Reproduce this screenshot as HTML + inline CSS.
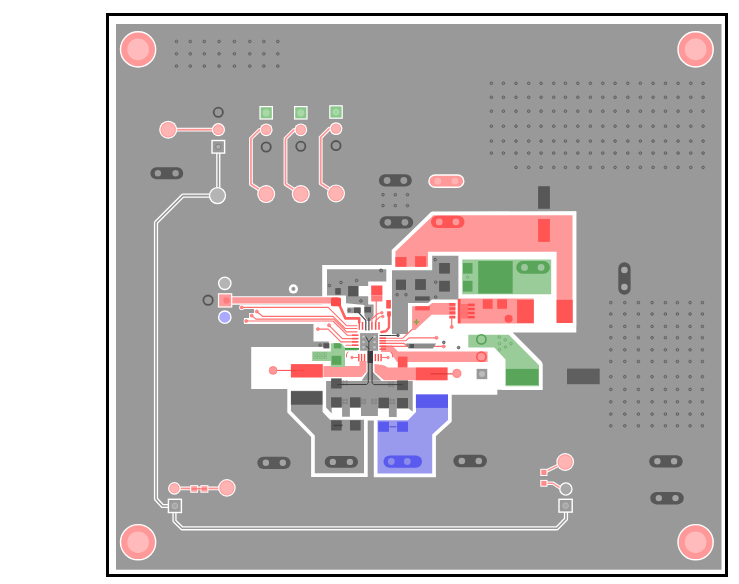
<!DOCTYPE html>
<html><head><meta charset="utf-8"><style>
html,body{margin:0;padding:0;background:#fff;width:739px;height:584px;overflow:hidden}
svg{display:block}
</style></head><body>
<svg width="739" height="584" viewBox="0 0 739 584">
<rect x="107.5" y="14.5" width="619" height="561" fill="none" stroke="#000" stroke-width="3"/>
<rect x="116" y="24" width="605.5" height="545.7" fill="#999999"/>
<circle cx="138.1" cy="49.4" r="17.60" fill="#ff9999" stroke="#fff" stroke-width="1.4"/>
<circle cx="138.1" cy="49.4" r="10.80" fill="#ffbbbb"/>
<circle cx="695.6" cy="49.4" r="17.60" fill="#ff9999" stroke="#fff" stroke-width="1.4"/>
<circle cx="695.6" cy="49.4" r="10.80" fill="#ffbbbb"/>
<circle cx="138.1" cy="542.2" r="17.60" fill="#ff9999" stroke="#fff" stroke-width="1.4"/>
<circle cx="138.1" cy="542.2" r="10.80" fill="#ffbbbb"/>
<circle cx="695.6" cy="542.2" r="17.60" fill="#ff9999" stroke="#fff" stroke-width="1.4"/>
<circle cx="695.6" cy="542.2" r="10.80" fill="#ffbbbb"/>
<circle cx="176.5" cy="41.5" r="1.30" fill="#8c8c8c" stroke="#5c5c5c" stroke-width="0.95"/>
<circle cx="176.5" cy="53.8" r="1.30" fill="#8c8c8c" stroke="#5c5c5c" stroke-width="0.95"/>
<circle cx="176.5" cy="66.1" r="1.30" fill="#8c8c8c" stroke="#5c5c5c" stroke-width="0.95"/>
<circle cx="190.3" cy="41.5" r="1.30" fill="#8c8c8c" stroke="#5c5c5c" stroke-width="0.95"/>
<circle cx="190.3" cy="53.8" r="1.30" fill="#8c8c8c" stroke="#5c5c5c" stroke-width="0.95"/>
<circle cx="190.3" cy="66.1" r="1.30" fill="#8c8c8c" stroke="#5c5c5c" stroke-width="0.95"/>
<circle cx="204.3" cy="41.5" r="1.30" fill="#8c8c8c" stroke="#5c5c5c" stroke-width="0.95"/>
<circle cx="204.3" cy="53.8" r="1.30" fill="#8c8c8c" stroke="#5c5c5c" stroke-width="0.95"/>
<circle cx="204.3" cy="66.1" r="1.30" fill="#8c8c8c" stroke="#5c5c5c" stroke-width="0.95"/>
<circle cx="219.1" cy="41.5" r="1.30" fill="#8c8c8c" stroke="#5c5c5c" stroke-width="0.95"/>
<circle cx="219.1" cy="53.8" r="1.30" fill="#8c8c8c" stroke="#5c5c5c" stroke-width="0.95"/>
<circle cx="219.1" cy="66.1" r="1.30" fill="#8c8c8c" stroke="#5c5c5c" stroke-width="0.95"/>
<circle cx="234.4" cy="41.5" r="1.30" fill="#8c8c8c" stroke="#5c5c5c" stroke-width="0.95"/>
<circle cx="234.4" cy="53.8" r="1.30" fill="#8c8c8c" stroke="#5c5c5c" stroke-width="0.95"/>
<circle cx="234.4" cy="66.1" r="1.30" fill="#8c8c8c" stroke="#5c5c5c" stroke-width="0.95"/>
<circle cx="249.8" cy="41.5" r="1.30" fill="#8c8c8c" stroke="#5c5c5c" stroke-width="0.95"/>
<circle cx="249.8" cy="53.8" r="1.30" fill="#8c8c8c" stroke="#5c5c5c" stroke-width="0.95"/>
<circle cx="249.8" cy="66.1" r="1.30" fill="#8c8c8c" stroke="#5c5c5c" stroke-width="0.95"/>
<circle cx="263.8" cy="41.5" r="1.30" fill="#8c8c8c" stroke="#5c5c5c" stroke-width="0.95"/>
<circle cx="263.8" cy="53.8" r="1.30" fill="#8c8c8c" stroke="#5c5c5c" stroke-width="0.95"/>
<circle cx="263.8" cy="66.1" r="1.30" fill="#8c8c8c" stroke="#5c5c5c" stroke-width="0.95"/>
<circle cx="277.8" cy="41.5" r="1.30" fill="#8c8c8c" stroke="#5c5c5c" stroke-width="0.95"/>
<circle cx="277.8" cy="53.8" r="1.30" fill="#8c8c8c" stroke="#5c5c5c" stroke-width="0.95"/>
<circle cx="277.8" cy="66.1" r="1.30" fill="#8c8c8c" stroke="#5c5c5c" stroke-width="0.95"/>
<circle cx="491.4" cy="83.3" r="1.30" fill="#8c8c8c" stroke="#5c5c5c" stroke-width="0.95"/>
<circle cx="503.4" cy="83.3" r="1.30" fill="#8c8c8c" stroke="#5c5c5c" stroke-width="0.95"/>
<circle cx="516.0" cy="83.3" r="1.30" fill="#8c8c8c" stroke="#5c5c5c" stroke-width="0.95"/>
<circle cx="528.7" cy="83.3" r="1.30" fill="#8c8c8c" stroke="#5c5c5c" stroke-width="0.95"/>
<circle cx="541.1" cy="83.3" r="1.30" fill="#8c8c8c" stroke="#5c5c5c" stroke-width="0.95"/>
<circle cx="553.7" cy="83.3" r="1.30" fill="#8c8c8c" stroke="#5c5c5c" stroke-width="0.95"/>
<circle cx="565.4" cy="83.3" r="1.30" fill="#8c8c8c" stroke="#5c5c5c" stroke-width="0.95"/>
<circle cx="577.8" cy="83.3" r="1.30" fill="#8c8c8c" stroke="#5c5c5c" stroke-width="0.95"/>
<circle cx="590.4" cy="83.3" r="1.30" fill="#8c8c8c" stroke="#5c5c5c" stroke-width="0.95"/>
<circle cx="602.8" cy="83.3" r="1.30" fill="#8c8c8c" stroke="#5c5c5c" stroke-width="0.95"/>
<circle cx="615.1" cy="83.3" r="1.30" fill="#8c8c8c" stroke="#5c5c5c" stroke-width="0.95"/>
<circle cx="627.8" cy="83.3" r="1.30" fill="#8c8c8c" stroke="#5c5c5c" stroke-width="0.95"/>
<circle cx="640.4" cy="83.3" r="1.30" fill="#8c8c8c" stroke="#5c5c5c" stroke-width="0.95"/>
<circle cx="653.1" cy="83.3" r="1.30" fill="#8c8c8c" stroke="#5c5c5c" stroke-width="0.95"/>
<circle cx="665.5" cy="83.3" r="1.30" fill="#8c8c8c" stroke="#5c5c5c" stroke-width="0.95"/>
<circle cx="678.1" cy="83.3" r="1.30" fill="#8c8c8c" stroke="#5c5c5c" stroke-width="0.95"/>
<circle cx="690.8" cy="83.3" r="1.30" fill="#8c8c8c" stroke="#5c5c5c" stroke-width="0.95"/>
<circle cx="703.1" cy="83.3" r="1.30" fill="#8c8c8c" stroke="#5c5c5c" stroke-width="0.95"/>
<circle cx="491.4" cy="97.3" r="1.30" fill="#8c8c8c" stroke="#5c5c5c" stroke-width="0.95"/>
<circle cx="503.4" cy="97.3" r="1.30" fill="#8c8c8c" stroke="#5c5c5c" stroke-width="0.95"/>
<circle cx="516.0" cy="97.3" r="1.30" fill="#8c8c8c" stroke="#5c5c5c" stroke-width="0.95"/>
<circle cx="528.7" cy="97.3" r="1.30" fill="#8c8c8c" stroke="#5c5c5c" stroke-width="0.95"/>
<circle cx="541.1" cy="97.3" r="1.30" fill="#8c8c8c" stroke="#5c5c5c" stroke-width="0.95"/>
<circle cx="553.7" cy="97.3" r="1.30" fill="#8c8c8c" stroke="#5c5c5c" stroke-width="0.95"/>
<circle cx="565.4" cy="97.3" r="1.30" fill="#8c8c8c" stroke="#5c5c5c" stroke-width="0.95"/>
<circle cx="577.8" cy="97.3" r="1.30" fill="#8c8c8c" stroke="#5c5c5c" stroke-width="0.95"/>
<circle cx="590.4" cy="97.3" r="1.30" fill="#8c8c8c" stroke="#5c5c5c" stroke-width="0.95"/>
<circle cx="602.8" cy="97.3" r="1.30" fill="#8c8c8c" stroke="#5c5c5c" stroke-width="0.95"/>
<circle cx="615.1" cy="97.3" r="1.30" fill="#8c8c8c" stroke="#5c5c5c" stroke-width="0.95"/>
<circle cx="627.8" cy="97.3" r="1.30" fill="#8c8c8c" stroke="#5c5c5c" stroke-width="0.95"/>
<circle cx="640.4" cy="97.3" r="1.30" fill="#8c8c8c" stroke="#5c5c5c" stroke-width="0.95"/>
<circle cx="653.1" cy="97.3" r="1.30" fill="#8c8c8c" stroke="#5c5c5c" stroke-width="0.95"/>
<circle cx="665.5" cy="97.3" r="1.30" fill="#8c8c8c" stroke="#5c5c5c" stroke-width="0.95"/>
<circle cx="678.1" cy="97.3" r="1.30" fill="#8c8c8c" stroke="#5c5c5c" stroke-width="0.95"/>
<circle cx="690.8" cy="97.3" r="1.30" fill="#8c8c8c" stroke="#5c5c5c" stroke-width="0.95"/>
<circle cx="703.1" cy="97.3" r="1.30" fill="#8c8c8c" stroke="#5c5c5c" stroke-width="0.95"/>
<circle cx="491.4" cy="111.2" r="1.30" fill="#8c8c8c" stroke="#5c5c5c" stroke-width="0.95"/>
<circle cx="503.4" cy="111.2" r="1.30" fill="#8c8c8c" stroke="#5c5c5c" stroke-width="0.95"/>
<circle cx="516.0" cy="111.2" r="1.30" fill="#8c8c8c" stroke="#5c5c5c" stroke-width="0.95"/>
<circle cx="528.7" cy="111.2" r="1.30" fill="#8c8c8c" stroke="#5c5c5c" stroke-width="0.95"/>
<circle cx="541.1" cy="111.2" r="1.30" fill="#8c8c8c" stroke="#5c5c5c" stroke-width="0.95"/>
<circle cx="553.7" cy="111.2" r="1.30" fill="#8c8c8c" stroke="#5c5c5c" stroke-width="0.95"/>
<circle cx="565.4" cy="111.2" r="1.30" fill="#8c8c8c" stroke="#5c5c5c" stroke-width="0.95"/>
<circle cx="577.8" cy="111.2" r="1.30" fill="#8c8c8c" stroke="#5c5c5c" stroke-width="0.95"/>
<circle cx="590.4" cy="111.2" r="1.30" fill="#8c8c8c" stroke="#5c5c5c" stroke-width="0.95"/>
<circle cx="602.8" cy="111.2" r="1.30" fill="#8c8c8c" stroke="#5c5c5c" stroke-width="0.95"/>
<circle cx="615.1" cy="111.2" r="1.30" fill="#8c8c8c" stroke="#5c5c5c" stroke-width="0.95"/>
<circle cx="627.8" cy="111.2" r="1.30" fill="#8c8c8c" stroke="#5c5c5c" stroke-width="0.95"/>
<circle cx="640.4" cy="111.2" r="1.30" fill="#8c8c8c" stroke="#5c5c5c" stroke-width="0.95"/>
<circle cx="653.1" cy="111.2" r="1.30" fill="#8c8c8c" stroke="#5c5c5c" stroke-width="0.95"/>
<circle cx="665.5" cy="111.2" r="1.30" fill="#8c8c8c" stroke="#5c5c5c" stroke-width="0.95"/>
<circle cx="678.1" cy="111.2" r="1.30" fill="#8c8c8c" stroke="#5c5c5c" stroke-width="0.95"/>
<circle cx="690.8" cy="111.2" r="1.30" fill="#8c8c8c" stroke="#5c5c5c" stroke-width="0.95"/>
<circle cx="703.1" cy="111.2" r="1.30" fill="#8c8c8c" stroke="#5c5c5c" stroke-width="0.95"/>
<circle cx="491.4" cy="126.2" r="1.30" fill="#8c8c8c" stroke="#5c5c5c" stroke-width="0.95"/>
<circle cx="503.4" cy="126.2" r="1.30" fill="#8c8c8c" stroke="#5c5c5c" stroke-width="0.95"/>
<circle cx="516.0" cy="126.2" r="1.30" fill="#8c8c8c" stroke="#5c5c5c" stroke-width="0.95"/>
<circle cx="528.7" cy="126.2" r="1.30" fill="#8c8c8c" stroke="#5c5c5c" stroke-width="0.95"/>
<circle cx="541.1" cy="126.2" r="1.30" fill="#8c8c8c" stroke="#5c5c5c" stroke-width="0.95"/>
<circle cx="553.7" cy="126.2" r="1.30" fill="#8c8c8c" stroke="#5c5c5c" stroke-width="0.95"/>
<circle cx="565.4" cy="126.2" r="1.30" fill="#8c8c8c" stroke="#5c5c5c" stroke-width="0.95"/>
<circle cx="577.8" cy="126.2" r="1.30" fill="#8c8c8c" stroke="#5c5c5c" stroke-width="0.95"/>
<circle cx="590.4" cy="126.2" r="1.30" fill="#8c8c8c" stroke="#5c5c5c" stroke-width="0.95"/>
<circle cx="602.8" cy="126.2" r="1.30" fill="#8c8c8c" stroke="#5c5c5c" stroke-width="0.95"/>
<circle cx="615.1" cy="126.2" r="1.30" fill="#8c8c8c" stroke="#5c5c5c" stroke-width="0.95"/>
<circle cx="627.8" cy="126.2" r="1.30" fill="#8c8c8c" stroke="#5c5c5c" stroke-width="0.95"/>
<circle cx="640.4" cy="126.2" r="1.30" fill="#8c8c8c" stroke="#5c5c5c" stroke-width="0.95"/>
<circle cx="653.1" cy="126.2" r="1.30" fill="#8c8c8c" stroke="#5c5c5c" stroke-width="0.95"/>
<circle cx="665.5" cy="126.2" r="1.30" fill="#8c8c8c" stroke="#5c5c5c" stroke-width="0.95"/>
<circle cx="678.1" cy="126.2" r="1.30" fill="#8c8c8c" stroke="#5c5c5c" stroke-width="0.95"/>
<circle cx="690.8" cy="126.2" r="1.30" fill="#8c8c8c" stroke="#5c5c5c" stroke-width="0.95"/>
<circle cx="703.1" cy="126.2" r="1.30" fill="#8c8c8c" stroke="#5c5c5c" stroke-width="0.95"/>
<circle cx="491.4" cy="141.1" r="1.30" fill="#8c8c8c" stroke="#5c5c5c" stroke-width="0.95"/>
<circle cx="503.4" cy="141.1" r="1.30" fill="#8c8c8c" stroke="#5c5c5c" stroke-width="0.95"/>
<circle cx="516.0" cy="141.1" r="1.30" fill="#8c8c8c" stroke="#5c5c5c" stroke-width="0.95"/>
<circle cx="528.7" cy="141.1" r="1.30" fill="#8c8c8c" stroke="#5c5c5c" stroke-width="0.95"/>
<circle cx="541.1" cy="141.1" r="1.30" fill="#8c8c8c" stroke="#5c5c5c" stroke-width="0.95"/>
<circle cx="553.7" cy="141.1" r="1.30" fill="#8c8c8c" stroke="#5c5c5c" stroke-width="0.95"/>
<circle cx="565.4" cy="141.1" r="1.30" fill="#8c8c8c" stroke="#5c5c5c" stroke-width="0.95"/>
<circle cx="577.8" cy="141.1" r="1.30" fill="#8c8c8c" stroke="#5c5c5c" stroke-width="0.95"/>
<circle cx="590.4" cy="141.1" r="1.30" fill="#8c8c8c" stroke="#5c5c5c" stroke-width="0.95"/>
<circle cx="602.8" cy="141.1" r="1.30" fill="#8c8c8c" stroke="#5c5c5c" stroke-width="0.95"/>
<circle cx="615.1" cy="141.1" r="1.30" fill="#8c8c8c" stroke="#5c5c5c" stroke-width="0.95"/>
<circle cx="627.8" cy="141.1" r="1.30" fill="#8c8c8c" stroke="#5c5c5c" stroke-width="0.95"/>
<circle cx="640.4" cy="141.1" r="1.30" fill="#8c8c8c" stroke="#5c5c5c" stroke-width="0.95"/>
<circle cx="653.1" cy="141.1" r="1.30" fill="#8c8c8c" stroke="#5c5c5c" stroke-width="0.95"/>
<circle cx="665.5" cy="141.1" r="1.30" fill="#8c8c8c" stroke="#5c5c5c" stroke-width="0.95"/>
<circle cx="678.1" cy="141.1" r="1.30" fill="#8c8c8c" stroke="#5c5c5c" stroke-width="0.95"/>
<circle cx="690.8" cy="141.1" r="1.30" fill="#8c8c8c" stroke="#5c5c5c" stroke-width="0.95"/>
<circle cx="703.1" cy="141.1" r="1.30" fill="#8c8c8c" stroke="#5c5c5c" stroke-width="0.95"/>
<circle cx="491.4" cy="153.1" r="1.30" fill="#8c8c8c" stroke="#5c5c5c" stroke-width="0.95"/>
<circle cx="503.4" cy="153.1" r="1.30" fill="#8c8c8c" stroke="#5c5c5c" stroke-width="0.95"/>
<circle cx="516.0" cy="153.1" r="1.30" fill="#8c8c8c" stroke="#5c5c5c" stroke-width="0.95"/>
<circle cx="528.7" cy="153.1" r="1.30" fill="#8c8c8c" stroke="#5c5c5c" stroke-width="0.95"/>
<circle cx="541.1" cy="153.1" r="1.30" fill="#8c8c8c" stroke="#5c5c5c" stroke-width="0.95"/>
<circle cx="553.7" cy="153.1" r="1.30" fill="#8c8c8c" stroke="#5c5c5c" stroke-width="0.95"/>
<circle cx="565.4" cy="153.1" r="1.30" fill="#8c8c8c" stroke="#5c5c5c" stroke-width="0.95"/>
<circle cx="577.8" cy="153.1" r="1.30" fill="#8c8c8c" stroke="#5c5c5c" stroke-width="0.95"/>
<circle cx="590.4" cy="153.1" r="1.30" fill="#8c8c8c" stroke="#5c5c5c" stroke-width="0.95"/>
<circle cx="602.8" cy="153.1" r="1.30" fill="#8c8c8c" stroke="#5c5c5c" stroke-width="0.95"/>
<circle cx="615.1" cy="153.1" r="1.30" fill="#8c8c8c" stroke="#5c5c5c" stroke-width="0.95"/>
<circle cx="627.8" cy="153.1" r="1.30" fill="#8c8c8c" stroke="#5c5c5c" stroke-width="0.95"/>
<circle cx="640.4" cy="153.1" r="1.30" fill="#8c8c8c" stroke="#5c5c5c" stroke-width="0.95"/>
<circle cx="653.1" cy="153.1" r="1.30" fill="#8c8c8c" stroke="#5c5c5c" stroke-width="0.95"/>
<circle cx="665.5" cy="153.1" r="1.30" fill="#8c8c8c" stroke="#5c5c5c" stroke-width="0.95"/>
<circle cx="678.1" cy="153.1" r="1.30" fill="#8c8c8c" stroke="#5c5c5c" stroke-width="0.95"/>
<circle cx="690.8" cy="153.1" r="1.30" fill="#8c8c8c" stroke="#5c5c5c" stroke-width="0.95"/>
<circle cx="703.1" cy="153.1" r="1.30" fill="#8c8c8c" stroke="#5c5c5c" stroke-width="0.95"/>
<circle cx="516.0" cy="167.4" r="1.30" fill="#8c8c8c" stroke="#5c5c5c" stroke-width="0.95"/>
<circle cx="528.7" cy="167.4" r="1.30" fill="#8c8c8c" stroke="#5c5c5c" stroke-width="0.95"/>
<circle cx="541.1" cy="167.4" r="1.30" fill="#8c8c8c" stroke="#5c5c5c" stroke-width="0.95"/>
<circle cx="553.7" cy="167.4" r="1.30" fill="#8c8c8c" stroke="#5c5c5c" stroke-width="0.95"/>
<circle cx="565.4" cy="167.4" r="1.30" fill="#8c8c8c" stroke="#5c5c5c" stroke-width="0.95"/>
<circle cx="577.8" cy="167.4" r="1.30" fill="#8c8c8c" stroke="#5c5c5c" stroke-width="0.95"/>
<circle cx="590.4" cy="167.4" r="1.30" fill="#8c8c8c" stroke="#5c5c5c" stroke-width="0.95"/>
<circle cx="602.8" cy="167.4" r="1.30" fill="#8c8c8c" stroke="#5c5c5c" stroke-width="0.95"/>
<circle cx="615.1" cy="167.4" r="1.30" fill="#8c8c8c" stroke="#5c5c5c" stroke-width="0.95"/>
<circle cx="627.8" cy="167.4" r="1.30" fill="#8c8c8c" stroke="#5c5c5c" stroke-width="0.95"/>
<circle cx="640.4" cy="167.4" r="1.30" fill="#8c8c8c" stroke="#5c5c5c" stroke-width="0.95"/>
<circle cx="653.1" cy="167.4" r="1.30" fill="#8c8c8c" stroke="#5c5c5c" stroke-width="0.95"/>
<circle cx="665.5" cy="167.4" r="1.30" fill="#8c8c8c" stroke="#5c5c5c" stroke-width="0.95"/>
<circle cx="678.1" cy="167.4" r="1.30" fill="#8c8c8c" stroke="#5c5c5c" stroke-width="0.95"/>
<circle cx="690.8" cy="167.4" r="1.30" fill="#8c8c8c" stroke="#5c5c5c" stroke-width="0.95"/>
<circle cx="703.1" cy="167.4" r="1.30" fill="#8c8c8c" stroke="#5c5c5c" stroke-width="0.95"/>
<circle cx="610.8" cy="302.6" r="1.30" fill="#8c8c8c" stroke="#5c5c5c" stroke-width="0.95"/>
<circle cx="624.8" cy="302.6" r="1.30" fill="#8c8c8c" stroke="#5c5c5c" stroke-width="0.95"/>
<circle cx="638.4" cy="302.6" r="1.30" fill="#8c8c8c" stroke="#5c5c5c" stroke-width="0.95"/>
<circle cx="652.1" cy="302.6" r="1.30" fill="#8c8c8c" stroke="#5c5c5c" stroke-width="0.95"/>
<circle cx="665.4" cy="302.6" r="1.30" fill="#8c8c8c" stroke="#5c5c5c" stroke-width="0.95"/>
<circle cx="677.4" cy="302.6" r="1.30" fill="#8c8c8c" stroke="#5c5c5c" stroke-width="0.95"/>
<circle cx="690.1" cy="302.6" r="1.30" fill="#8c8c8c" stroke="#5c5c5c" stroke-width="0.95"/>
<circle cx="702.4" cy="302.6" r="1.30" fill="#8c8c8c" stroke="#5c5c5c" stroke-width="0.95"/>
<circle cx="610.8" cy="314.0" r="1.30" fill="#8c8c8c" stroke="#5c5c5c" stroke-width="0.95"/>
<circle cx="624.8" cy="314.0" r="1.30" fill="#8c8c8c" stroke="#5c5c5c" stroke-width="0.95"/>
<circle cx="638.4" cy="314.0" r="1.30" fill="#8c8c8c" stroke="#5c5c5c" stroke-width="0.95"/>
<circle cx="652.1" cy="314.0" r="1.30" fill="#8c8c8c" stroke="#5c5c5c" stroke-width="0.95"/>
<circle cx="665.4" cy="314.0" r="1.30" fill="#8c8c8c" stroke="#5c5c5c" stroke-width="0.95"/>
<circle cx="677.4" cy="314.0" r="1.30" fill="#8c8c8c" stroke="#5c5c5c" stroke-width="0.95"/>
<circle cx="690.1" cy="314.0" r="1.30" fill="#8c8c8c" stroke="#5c5c5c" stroke-width="0.95"/>
<circle cx="702.4" cy="314.0" r="1.30" fill="#8c8c8c" stroke="#5c5c5c" stroke-width="0.95"/>
<circle cx="610.8" cy="326.4" r="1.30" fill="#8c8c8c" stroke="#5c5c5c" stroke-width="0.95"/>
<circle cx="624.8" cy="326.4" r="1.30" fill="#8c8c8c" stroke="#5c5c5c" stroke-width="0.95"/>
<circle cx="638.4" cy="326.4" r="1.30" fill="#8c8c8c" stroke="#5c5c5c" stroke-width="0.95"/>
<circle cx="652.1" cy="326.4" r="1.30" fill="#8c8c8c" stroke="#5c5c5c" stroke-width="0.95"/>
<circle cx="665.4" cy="326.4" r="1.30" fill="#8c8c8c" stroke="#5c5c5c" stroke-width="0.95"/>
<circle cx="677.4" cy="326.4" r="1.30" fill="#8c8c8c" stroke="#5c5c5c" stroke-width="0.95"/>
<circle cx="690.1" cy="326.4" r="1.30" fill="#8c8c8c" stroke="#5c5c5c" stroke-width="0.95"/>
<circle cx="702.4" cy="326.4" r="1.30" fill="#8c8c8c" stroke="#5c5c5c" stroke-width="0.95"/>
<circle cx="610.8" cy="337.7" r="1.30" fill="#8c8c8c" stroke="#5c5c5c" stroke-width="0.95"/>
<circle cx="624.8" cy="337.7" r="1.30" fill="#8c8c8c" stroke="#5c5c5c" stroke-width="0.95"/>
<circle cx="638.4" cy="337.7" r="1.30" fill="#8c8c8c" stroke="#5c5c5c" stroke-width="0.95"/>
<circle cx="652.1" cy="337.7" r="1.30" fill="#8c8c8c" stroke="#5c5c5c" stroke-width="0.95"/>
<circle cx="665.4" cy="337.7" r="1.30" fill="#8c8c8c" stroke="#5c5c5c" stroke-width="0.95"/>
<circle cx="677.4" cy="337.7" r="1.30" fill="#8c8c8c" stroke="#5c5c5c" stroke-width="0.95"/>
<circle cx="690.1" cy="337.7" r="1.30" fill="#8c8c8c" stroke="#5c5c5c" stroke-width="0.95"/>
<circle cx="702.4" cy="337.7" r="1.30" fill="#8c8c8c" stroke="#5c5c5c" stroke-width="0.95"/>
<circle cx="610.8" cy="349.8" r="1.30" fill="#8c8c8c" stroke="#5c5c5c" stroke-width="0.95"/>
<circle cx="624.8" cy="349.8" r="1.30" fill="#8c8c8c" stroke="#5c5c5c" stroke-width="0.95"/>
<circle cx="638.4" cy="349.8" r="1.30" fill="#8c8c8c" stroke="#5c5c5c" stroke-width="0.95"/>
<circle cx="652.1" cy="349.8" r="1.30" fill="#8c8c8c" stroke="#5c5c5c" stroke-width="0.95"/>
<circle cx="665.4" cy="349.8" r="1.30" fill="#8c8c8c" stroke="#5c5c5c" stroke-width="0.95"/>
<circle cx="677.4" cy="349.8" r="1.30" fill="#8c8c8c" stroke="#5c5c5c" stroke-width="0.95"/>
<circle cx="690.1" cy="349.8" r="1.30" fill="#8c8c8c" stroke="#5c5c5c" stroke-width="0.95"/>
<circle cx="702.4" cy="349.8" r="1.30" fill="#8c8c8c" stroke="#5c5c5c" stroke-width="0.95"/>
<circle cx="610.8" cy="361.5" r="1.30" fill="#8c8c8c" stroke="#5c5c5c" stroke-width="0.95"/>
<circle cx="624.8" cy="361.5" r="1.30" fill="#8c8c8c" stroke="#5c5c5c" stroke-width="0.95"/>
<circle cx="638.4" cy="361.5" r="1.30" fill="#8c8c8c" stroke="#5c5c5c" stroke-width="0.95"/>
<circle cx="652.1" cy="361.5" r="1.30" fill="#8c8c8c" stroke="#5c5c5c" stroke-width="0.95"/>
<circle cx="665.4" cy="361.5" r="1.30" fill="#8c8c8c" stroke="#5c5c5c" stroke-width="0.95"/>
<circle cx="677.4" cy="361.5" r="1.30" fill="#8c8c8c" stroke="#5c5c5c" stroke-width="0.95"/>
<circle cx="690.1" cy="361.5" r="1.30" fill="#8c8c8c" stroke="#5c5c5c" stroke-width="0.95"/>
<circle cx="702.4" cy="361.5" r="1.30" fill="#8c8c8c" stroke="#5c5c5c" stroke-width="0.95"/>
<circle cx="610.8" cy="376.7" r="1.30" fill="#8c8c8c" stroke="#5c5c5c" stroke-width="0.95"/>
<circle cx="624.8" cy="376.7" r="1.30" fill="#8c8c8c" stroke="#5c5c5c" stroke-width="0.95"/>
<circle cx="638.4" cy="376.7" r="1.30" fill="#8c8c8c" stroke="#5c5c5c" stroke-width="0.95"/>
<circle cx="652.1" cy="376.7" r="1.30" fill="#8c8c8c" stroke="#5c5c5c" stroke-width="0.95"/>
<circle cx="665.4" cy="376.7" r="1.30" fill="#8c8c8c" stroke="#5c5c5c" stroke-width="0.95"/>
<circle cx="677.4" cy="376.7" r="1.30" fill="#8c8c8c" stroke="#5c5c5c" stroke-width="0.95"/>
<circle cx="690.1" cy="376.7" r="1.30" fill="#8c8c8c" stroke="#5c5c5c" stroke-width="0.95"/>
<circle cx="702.4" cy="376.7" r="1.30" fill="#8c8c8c" stroke="#5c5c5c" stroke-width="0.95"/>
<circle cx="610.8" cy="389.4" r="1.30" fill="#8c8c8c" stroke="#5c5c5c" stroke-width="0.95"/>
<circle cx="624.8" cy="389.4" r="1.30" fill="#8c8c8c" stroke="#5c5c5c" stroke-width="0.95"/>
<circle cx="638.4" cy="389.4" r="1.30" fill="#8c8c8c" stroke="#5c5c5c" stroke-width="0.95"/>
<circle cx="652.1" cy="389.4" r="1.30" fill="#8c8c8c" stroke="#5c5c5c" stroke-width="0.95"/>
<circle cx="665.4" cy="389.4" r="1.30" fill="#8c8c8c" stroke="#5c5c5c" stroke-width="0.95"/>
<circle cx="677.4" cy="389.4" r="1.30" fill="#8c8c8c" stroke="#5c5c5c" stroke-width="0.95"/>
<circle cx="690.1" cy="389.4" r="1.30" fill="#8c8c8c" stroke="#5c5c5c" stroke-width="0.95"/>
<circle cx="702.4" cy="389.4" r="1.30" fill="#8c8c8c" stroke="#5c5c5c" stroke-width="0.95"/>
<circle cx="610.8" cy="401.8" r="1.30" fill="#8c8c8c" stroke="#5c5c5c" stroke-width="0.95"/>
<circle cx="624.8" cy="401.8" r="1.30" fill="#8c8c8c" stroke="#5c5c5c" stroke-width="0.95"/>
<circle cx="638.4" cy="401.8" r="1.30" fill="#8c8c8c" stroke="#5c5c5c" stroke-width="0.95"/>
<circle cx="652.1" cy="401.8" r="1.30" fill="#8c8c8c" stroke="#5c5c5c" stroke-width="0.95"/>
<circle cx="665.4" cy="401.8" r="1.30" fill="#8c8c8c" stroke="#5c5c5c" stroke-width="0.95"/>
<circle cx="677.4" cy="401.8" r="1.30" fill="#8c8c8c" stroke="#5c5c5c" stroke-width="0.95"/>
<circle cx="690.1" cy="401.8" r="1.30" fill="#8c8c8c" stroke="#5c5c5c" stroke-width="0.95"/>
<circle cx="702.4" cy="401.8" r="1.30" fill="#8c8c8c" stroke="#5c5c5c" stroke-width="0.95"/>
<circle cx="610.8" cy="414.1" r="1.30" fill="#8c8c8c" stroke="#5c5c5c" stroke-width="0.95"/>
<circle cx="624.8" cy="414.1" r="1.30" fill="#8c8c8c" stroke="#5c5c5c" stroke-width="0.95"/>
<circle cx="638.4" cy="414.1" r="1.30" fill="#8c8c8c" stroke="#5c5c5c" stroke-width="0.95"/>
<circle cx="652.1" cy="414.1" r="1.30" fill="#8c8c8c" stroke="#5c5c5c" stroke-width="0.95"/>
<circle cx="665.4" cy="414.1" r="1.30" fill="#8c8c8c" stroke="#5c5c5c" stroke-width="0.95"/>
<circle cx="677.4" cy="414.1" r="1.30" fill="#8c8c8c" stroke="#5c5c5c" stroke-width="0.95"/>
<circle cx="690.1" cy="414.1" r="1.30" fill="#8c8c8c" stroke="#5c5c5c" stroke-width="0.95"/>
<circle cx="702.4" cy="414.1" r="1.30" fill="#8c8c8c" stroke="#5c5c5c" stroke-width="0.95"/>
<circle cx="610.8" cy="425.8" r="1.30" fill="#8c8c8c" stroke="#5c5c5c" stroke-width="0.95"/>
<circle cx="624.8" cy="425.8" r="1.30" fill="#8c8c8c" stroke="#5c5c5c" stroke-width="0.95"/>
<circle cx="638.4" cy="425.8" r="1.30" fill="#8c8c8c" stroke="#5c5c5c" stroke-width="0.95"/>
<circle cx="652.1" cy="425.8" r="1.30" fill="#8c8c8c" stroke="#5c5c5c" stroke-width="0.95"/>
<circle cx="665.4" cy="425.8" r="1.30" fill="#8c8c8c" stroke="#5c5c5c" stroke-width="0.95"/>
<circle cx="677.4" cy="425.8" r="1.30" fill="#8c8c8c" stroke="#5c5c5c" stroke-width="0.95"/>
<circle cx="690.1" cy="425.8" r="1.30" fill="#8c8c8c" stroke="#5c5c5c" stroke-width="0.95"/>
<circle cx="702.4" cy="425.8" r="1.30" fill="#8c8c8c" stroke="#5c5c5c" stroke-width="0.95"/>
<circle cx="383.0" cy="194.7" r="1.30" fill="#8c8c8c" stroke="#5c5c5c" stroke-width="0.95"/>
<circle cx="383.0" cy="205.6" r="1.30" fill="#8c8c8c" stroke="#5c5c5c" stroke-width="0.95"/>
<circle cx="395.3" cy="194.7" r="1.30" fill="#8c8c8c" stroke="#5c5c5c" stroke-width="0.95"/>
<circle cx="395.3" cy="205.6" r="1.30" fill="#8c8c8c" stroke="#5c5c5c" stroke-width="0.95"/>
<circle cx="407.5" cy="194.7" r="1.30" fill="#8c8c8c" stroke="#5c5c5c" stroke-width="0.95"/>
<circle cx="407.5" cy="205.6" r="1.30" fill="#8c8c8c" stroke="#5c5c5c" stroke-width="0.95"/>
<rect x="378.9" y="174.3" width="32.9" height="12.3" rx="6.2" ry="6.2" fill="#575757"/>
<circle cx="387.1" cy="180.5" r="3.40" fill="#9a9a9a"/>
<circle cx="403.8" cy="180.5" r="3.40" fill="#9a9a9a"/>
<rect x="379.6" y="216.2" width="33.6" height="12.3" rx="6.2" ry="6.2" fill="#575757"/>
<circle cx="387.8" cy="222.3" r="3.40" fill="#9a9a9a"/>
<circle cx="404.9" cy="222.3" r="3.40" fill="#9a9a9a"/>
<rect x="428.9" y="175.0" width="34.9" height="12.3" rx="6.2" ry="6.2" fill="#ff9999" stroke="#ffffff" stroke-width="1.4"/>
<circle cx="437.8" cy="181.2" r="3.40" fill="#ffb3b3"/>
<circle cx="454.9" cy="181.2" r="3.40" fill="#ffb3b3"/>
<rect x="150.4" y="167.3" width="32.8" height="12.0" rx="6.0" ry="6.0" fill="#575757"/>
<circle cx="157.9" cy="173.3" r="3.20" fill="#9a9a9a"/>
<circle cx="175.6" cy="173.3" r="3.20" fill="#9a9a9a"/>
<rect x="538.1" y="186.2" width="11.8" height="22.6" fill="#575757"/>
<rect x="257.3" y="456.7" width="33.3" height="12.3" rx="6.2" ry="6.2" fill="#5a5a5a"/>
<circle cx="265.9" cy="462.8" r="3.20" fill="#a4a4a4"/>
<circle cx="282.8" cy="462.8" r="3.20" fill="#a4a4a4"/>
<rect x="453.4" y="454.8" width="33.5" height="12.4" rx="6.2" ry="6.2" fill="#575757"/>
<circle cx="461.8" cy="461.0" r="3.30" fill="#a4a4a4"/>
<circle cx="478.8" cy="461.0" r="3.30" fill="#a4a4a4"/>
<rect x="649.2" y="455.2" width="33.5" height="12.3" rx="6.2" ry="6.2" fill="#575757"/>
<circle cx="657.4" cy="461.3" r="3.20" fill="#a4a4a4"/>
<circle cx="674.1" cy="461.3" r="3.20" fill="#a4a4a4"/>
<rect x="650.3" y="491.9" width="33.4" height="12.5" rx="6.2" ry="6.2" fill="#575757"/>
<circle cx="658.8" cy="498.1" r="3.20" fill="#a4a4a4"/>
<circle cx="675.5" cy="498.1" r="3.20" fill="#a4a4a4"/>
<rect x="618.3" y="262.3" width="12.3" height="32.5" rx="6.1" fill="#575757"/>
<circle cx="624.4" cy="270.0" r="3.30" fill="#a8a8a8"/>
<circle cx="624.4" cy="287.0" r="3.30" fill="#a8a8a8"/>
<rect x="567.0" y="368.6" width="32.7" height="15.6" fill="#5f5f5f"/>
<polygon points="240.0,304.9 322.2,304.9 322.2,265.0 392.0,265.0 392.0,251.0 431.0,212.0 576.3,211.3 576.3,332.5 512.6,332.5 542.0,362.0 542.0,389.8 497.3,389.8 497.3,394.7 412.0,394.7 412.0,389.0 251.2,389.0 251.2,347.0 331.0,347.0 331.0,341.5 313.5,341.5 313.5,324.0 244.0,324.0 244.0,318.0 249.0,318.0 249.0,313.0 254.0,313.0 254.0,309.0 240.0,309.0" fill="#ffffff"/>
<polygon points="322.4,381.0 416.4,381.0 416.4,412.0 410.0,420.4 330.0,420.4 322.4,413.0" fill="#ffffff"/>
<polygon points="433.5,215.3 572.5,215.3 572.5,323.0 556.6,323.0 556.6,251.7 428.0,251.7 428.0,266.8 395.4,266.8 395.4,251.5" fill="#ffffff" stroke="#ffffff" stroke-width="7.4" stroke-linejoin="miter"/>
<polygon points="327.0,269.2 386.3,269.2 386.3,281.6 368.2,281.6 368.2,286.0 358.4,286.0 358.4,296.3 368.2,296.3 368.2,304.5 373.6,304.5 373.6,316.0 370.5,321.0 367.5,321.0 364.4,316.0 364.4,305.0 346.0,303.3 346.0,295.5 327.0,295.5" fill="#ffffff" stroke="#ffffff" stroke-width="7.4" stroke-linejoin="miter"/>
<polygon points="347.3,307.5 360.6,307.5 360.6,313.2 347.3,313.2" fill="#ffffff" stroke="#ffffff" stroke-width="7.4" stroke-linejoin="miter"/>
<polygon points="392.0,270.2 432.2,270.2 432.2,255.7 458.4,255.7 458.4,299.5 432.0,299.5 428.0,303.0 408.0,303.0 408.0,334.0 392.0,334.0" fill="#ffffff" stroke="#ffffff" stroke-width="7.4" stroke-linejoin="miter"/>
<polygon points="326.1,381.1 412.7,381.1 412.7,411.5 408.5,408.6 396.7,408.6 396.7,417.0 388.9,417.0 388.9,408.2 377.9,408.2 377.9,416.0 361.0,416.0 361.0,407.6 349.9,407.6 349.9,416.7 342.1,416.7 342.1,407.6 331.7,407.6 331.7,413.4 326.1,407.6" fill="#ffffff" stroke="#ffffff" stroke-width="7.4" stroke-linejoin="miter"/>
<polygon points="291.0,390.8 322.6,390.8 322.6,412.0 330.0,419.7 364.0,419.7 364.0,473.3 314.8,473.3 314.8,435.5 291.0,411.0" fill="#ffffff" stroke="#ffffff" stroke-width="7.4" stroke-linejoin="miter"/>
<polygon points="377.5,420.3 408.0,420.3 416.0,412.0 416.0,394.5 448.0,394.5 448.0,420.0 432.2,434.5 432.2,473.6 377.5,473.6" fill="#ffffff" stroke="#ffffff" stroke-width="7.4" stroke-linejoin="miter"/>
<polygon points="468.3,334.7 508.8,334.7 539.0,365.2 539.0,386.3 505.5,386.3 505.5,359.5 494.3,347.6 468.3,347.6" fill="#ffffff" stroke="#ffffff" stroke-width="7.4" stroke-linejoin="miter"/>
<polygon points="457.9,298.4 533.8,298.4 533.8,323.5 457.9,323.5" fill="#ffffff" stroke="#ffffff" stroke-width="7.4" stroke-linejoin="miter"/>
<polygon points="462.2,259.4 551.2,259.4 551.2,294.2 462.2,294.2" fill="#ffffff" stroke="#ffffff" stroke-width="7.4" stroke-linejoin="miter"/>
<polygon points="412.1,306.2 428.0,306.2 432.2,303.1 455.4,303.1 455.4,314.7 431.6,314.7 415.2,329.9 412.1,329.9" fill="#ffffff" stroke="#ffffff" stroke-width="7.4" stroke-linejoin="miter"/>
<polygon points="367.7,350.7 372.6,350.7 372.6,371.8 381.5,380.7 361.6,380.7 367.7,371.8" fill="#ffffff" stroke="#ffffff" stroke-width="4.5" stroke-linejoin="miter"/>
<polygon points="381.0,345.5 392.0,345.5 398.0,351.4 487.6,351.4 487.6,362.0 397.0,362.0 390.0,352.0 381.0,352.0" fill="#ffffff" stroke="#ffffff" stroke-width="4" stroke-linejoin="miter"/>
<polygon points="323.4,366.1 359.5,366.1 359.5,361.0 366.5,361.0 366.5,371.8 361.5,377.0 323.4,377.0" fill="#ffffff" stroke="#ffffff" stroke-width="4" stroke-linejoin="miter"/>
<polygon points="374.5,364.0 384.0,365.3 388.0,367.4 416.0,367.4 416.0,380.3 384.0,380.3 374.5,372.0" fill="#ffffff" stroke="#ffffff" stroke-width="4" stroke-linejoin="miter"/>
<polygon points="312.2,351.4 330.8,351.4 330.8,343.2 341.3,343.2 345.0,347.7 357.6,347.7 357.6,350.6 345.0,350.6 345.0,367.0 330.8,367.0 330.8,361.0 312.2,361.0" fill="#ffffff" stroke="#ffffff" stroke-width="4" stroke-linejoin="miter"/>
<polygon points="433.5,215.3 572.5,215.3 572.5,323.0 556.6,323.0 556.6,251.7 428.0,251.7 428.0,266.8 395.4,266.8 395.4,251.5" fill="#ff9999"/>
<polygon points="327.0,269.2 386.3,269.2 386.3,281.6 368.2,281.6 368.2,286.0 358.4,286.0 358.4,296.3 368.2,296.3 368.2,304.5 373.6,304.5 373.6,316.0 370.5,321.0 367.5,321.0 364.4,316.0 364.4,305.0 346.0,303.3 346.0,295.5 327.0,295.5" fill="#999999"/>
<polygon points="347.3,307.5 360.6,307.5 360.6,313.2 347.3,313.2" fill="#999999"/>
<polygon points="392.0,270.2 432.2,270.2 432.2,255.7 458.4,255.7 458.4,299.5 432.0,299.5 428.0,303.0 408.0,303.0 408.0,334.0 392.0,334.0" fill="#999999"/>
<polygon points="326.1,381.1 412.7,381.1 412.7,411.5 408.5,408.6 396.7,408.6 396.7,417.0 388.9,417.0 388.9,408.2 377.9,408.2 377.9,416.0 361.0,416.0 361.0,407.6 349.9,407.6 349.9,416.7 342.1,416.7 342.1,407.6 331.7,407.6 331.7,413.4 326.1,407.6" fill="#999999"/>
<polygon points="291.0,390.8 322.6,390.8 322.6,412.0 330.0,419.7 364.0,419.7 364.0,473.3 314.8,473.3 314.8,435.5 291.0,411.0" fill="#999999"/>
<polygon points="367.7,350.7 372.6,350.7 372.6,371.8 381.5,380.7 361.6,380.7 367.7,371.8" fill="#999999"/>
<polygon points="377.5,420.3 408.0,420.3 416.0,412.0 416.0,394.5 448.0,394.5 448.0,420.0 432.2,434.5 432.2,473.6 377.5,473.6" fill="#9999ee"/>
<polygon points="468.3,334.7 508.8,334.7 539.0,365.2 539.0,386.3 505.5,386.3 505.5,359.5 494.3,347.6 468.3,347.6" fill="#99cc99"/>
<polygon points="457.9,298.4 533.8,298.4 533.8,323.5 457.9,323.5" fill="#ff9999"/>
<polygon points="462.2,259.4 551.2,259.4 551.2,294.2 462.2,294.2" fill="#99cc99"/>
<polygon points="412.1,306.2 428.0,306.2 432.2,303.1 455.4,303.1 455.4,314.7 431.6,314.7 415.2,329.9 412.1,329.9" fill="#ff9999"/>
<polygon points="381.0,345.5 392.0,345.5 398.0,351.4 487.6,351.4 487.6,362.0 397.0,362.0 390.0,352.0 381.0,352.0" fill="#ff9999"/>
<polygon points="323.4,366.1 359.5,366.1 359.5,361.0 366.5,361.0 366.5,371.8 361.5,377.0 323.4,377.0" fill="#ff9999"/>
<polygon points="374.5,364.0 384.0,365.3 388.0,367.4 416.0,367.4 416.0,380.3 384.0,380.3 374.5,372.0" fill="#ff9999"/>
<polygon points="312.2,351.4 330.8,351.4 330.8,343.2 341.3,343.2 345.0,347.7 357.6,347.7 357.6,350.6 345.0,350.6 345.0,367.0 330.8,367.0 330.8,361.0 312.2,361.0" fill="#99cc99"/>
<rect x="395.4" y="257.0" width="11.1" height="9.8" fill="#ff5555"/>
<rect x="415.1" y="256.2" width="11.1" height="10.6" fill="#ff5555"/>
<rect x="538.1" y="219.0" width="11.8" height="22.9" fill="#ff5555"/>
<rect x="556.6" y="299.8" width="16.1" height="23.2" fill="#ff5555"/>
<rect x="431.0" y="215.8" width="33.5" height="12.3" rx="6.2" ry="6.2" fill="#ff5555"/>
<circle cx="439.2" cy="221.9" r="3.40" fill="#ff9999"/>
<circle cx="456.0" cy="221.9" r="3.40" fill="#ff9999"/>
<rect x="348.1" y="286.0" width="10.3" height="10.3" fill="#575757"/>
<rect x="335.2" y="288.1" width="5.6" height="6.5" fill="#575757"/>
<rect x="354.0" y="307.5" width="6.6" height="5.4" fill="#575757"/>
<rect x="364.4" y="307.0" width="6.6" height="5.7" fill="#575757"/>
<circle cx="341.0" cy="282.5" r="1.30" fill="#8c8c8c" stroke="#5c5c5c" stroke-width="0.95"/>
<circle cx="356.6" cy="280.5" r="1.30" fill="#8c8c8c" stroke="#5c5c5c" stroke-width="0.95"/>
<circle cx="380.9" cy="270.4" r="1.30" fill="#8c8c8c" stroke="#5c5c5c" stroke-width="0.95"/>
<circle cx="329.5" cy="285.5" r="1.30" fill="#8c8c8c" stroke="#5c5c5c" stroke-width="0.95"/>
<circle cx="349.2" cy="310.3" r="1.30" fill="#8c8c8c" stroke="#5c5c5c" stroke-width="0.95"/>
<circle cx="360.9" cy="300.9" r="1.30" fill="#8c8c8c" stroke="#5c5c5c" stroke-width="0.95"/>
<rect x="439.1" y="263.0" width="10.8" height="10.6" fill="#575757"/>
<rect x="439.1" y="280.8" width="10.8" height="10.8" fill="#575757"/>
<rect x="395.9" y="279.6" width="10.1" height="10.3" fill="#575757"/>
<rect x="415.1" y="279.1" width="10.8" height="10.8" fill="#575757"/>
<rect x="415.0" y="296.4" width="14.7" height="4.2" fill="#575757"/>
<circle cx="435.1" cy="259.6" r="1.30" fill="#8c8c8c" stroke="#5c5c5c" stroke-width="0.95"/>
<circle cx="435.7" cy="282.2" r="1.30" fill="#8c8c8c" stroke="#5c5c5c" stroke-width="0.95"/>
<circle cx="397.1" cy="294.7" r="1.30" fill="#8c8c8c" stroke="#5c5c5c" stroke-width="0.95"/>
<circle cx="406.0" cy="294.7" r="1.30" fill="#8c8c8c" stroke="#5c5c5c" stroke-width="0.95"/>
<circle cx="381.4" cy="270.7" r="1.30" fill="#8c8c8c" stroke="#5c5c5c" stroke-width="0.95"/>
<circle cx="435.7" cy="297.0" r="1.30" fill="#8c8c8c" stroke="#5c5c5c" stroke-width="0.95"/>
<circle cx="398.0" cy="335.3" r="1.30" fill="#8c8c8c" stroke="#5c5c5c" stroke-width="0.95"/>
<rect x="478.2" y="261.0" width="34.5" height="32.5" fill="#59a559"/>
<rect x="463.0" y="263.0" width="9.5" height="10.6" fill="#59a559"/>
<rect x="463.0" y="280.8" width="9.5" height="10.8" fill="#59a559"/>
<rect x="516.2" y="261.1" width="33.7" height="12.6" rx="6.3" ry="6.3" fill="#59a559"/>
<circle cx="524.5" cy="267.4" r="3.40" fill="#9cc79c"/>
<circle cx="541.1" cy="267.4" r="3.40" fill="#9cc79c"/>
<circle cx="467.7" cy="277.2" r="1.20" fill="none" stroke="#6aa56a" stroke-width="0.7"/>
<rect x="482.8" y="299.3" width="9.8" height="9.5" fill="#ff5555"/>
<rect x="497.2" y="299.3" width="9.8" height="9.5" fill="#ff5555"/>
<rect x="517.1" y="299.8" width="16.7" height="23.2" fill="#ff5555"/>
<circle cx="508.6" cy="318.7" r="4.00" fill="#ff5555"/>
<rect x="457.8" y="299.0" width="2.8" height="24.3" fill="#ff5252"/>
<rect x="460.6" y="304.0" width="7.4" height="14.5" fill="#ff7272"/>
<rect x="467.8" y="303.6" width="6.9" height="2.6" fill="#ff4a4a"/>
<rect x="467.8" y="307.7" width="6.9" height="2.6" fill="#ff4a4a"/>
<rect x="467.8" y="311.7" width="6.9" height="2.6" fill="#ff4a4a"/>
<rect x="467.8" y="315.8" width="6.9" height="2.6" fill="#ff4a4a"/>
<rect x="415.2" y="306.2" width="14.6" height="4.2" fill="#ff5555"/>
<rect x="449.3" y="303.0" width="6.1" height="2.8" fill="#ff5555"/>
<rect x="449.3" y="307.2" width="6.1" height="2.8" fill="#ff5555"/>
<rect x="449.3" y="311.4" width="6.1" height="2.8" fill="#ff5555"/>
<rect x="449.3" y="315.7" width="6.1" height="2.8" fill="#ff5555"/>
<polyline points="451.7,317.8 451.7,326.5" fill="none" stroke="#ff6f6f" stroke-width="1.2" stroke-linecap="round" stroke-linejoin="round"/>
<circle cx="451.7" cy="327.0" r="1.60" fill="#ff8080" stroke="#ff6f6f" stroke-width="0.6"/>
<path d="M413.6 322 h5.6 M416.4 319.2 v5.6" stroke="#6a9a3a" stroke-width="1.2"/>
<circle cx="416.4" cy="322.0" r="1.60" fill="#8aaa4a"/>
<rect x="505.9" y="368.9" width="32.6" height="16.1" fill="#59a559"/>
<circle cx="481.4" cy="339.4" r="4.60" fill="none" stroke="#55a055" stroke-width="1.6"/>
<circle cx="499.2" cy="337.2" r="1.30" fill="none" stroke="#66a866" stroke-width="0.8"/>
<circle cx="505.2" cy="339.9" r="1.30" fill="none" stroke="#66a866" stroke-width="0.8"/>
<circle cx="510.9" cy="343.6" r="1.30" fill="none" stroke="#66a866" stroke-width="0.8"/>
<circle cx="499.5" cy="343.6" r="1.30" fill="none" stroke="#66a866" stroke-width="0.8"/>
<circle cx="505.5" cy="347.0" r="1.30" fill="none" stroke="#66a866" stroke-width="0.8"/>
<circle cx="499.5" cy="349.6" r="1.30" fill="none" stroke="#66a866" stroke-width="0.8"/>
<circle cx="481.4" cy="356.7" r="4.60" fill="#ff9999" stroke="#ff5555" stroke-width="1.6"/>
<rect x="397.8" y="356.6" width="9.7" height="11.0" fill="#ff5555"/>
<rect x="290.9" y="364.1" width="31.9" height="13.4" fill="#ff5555"/>
<rect x="415.9" y="367.4" width="31.7" height="12.9" fill="#ff5555"/>
<polyline points="273.1,370.4 303.9,370.4" fill="none" stroke="#ff4444" stroke-width="1" stroke-linecap="round" stroke-linejoin="round"/>
<circle cx="273.1" cy="370.4" r="3.90" fill="#ff9999" stroke="#ff7777" stroke-width="0.8"/>
<polyline points="430.9,373.9 456.6,373.9" fill="none" stroke="#dd3333" stroke-width="1" stroke-linecap="round" stroke-linejoin="round"/>
<circle cx="456.9" cy="373.4" r="4.10" fill="#ff9999" stroke="#ff7777" stroke-width="0.8"/>
<rect x="476.0" y="368.2" width="11.9" height="11.6" fill="#999999" stroke="#ffffff" stroke-width="1.2"/>
<circle cx="482.0" cy="374.0" r="3.00" fill="#bbbbbb"/>
<rect x="331.6" y="355.8" width="9.7" height="9.0" fill="#59a559"/>
<rect x="333.8" y="343.2" width="7.5" height="5.2" fill="#59a559"/>
<rect x="313.8" y="352.8" width="2.4" height="2.4" fill="none" stroke="#77b377" stroke-width="0.6"/>
<rect x="313.8" y="356.3" width="2.4" height="2.4" fill="none" stroke="#77b377" stroke-width="0.6"/>
<rect x="317.3" y="352.8" width="2.4" height="2.4" fill="none" stroke="#77b377" stroke-width="0.6"/>
<rect x="317.3" y="356.3" width="2.4" height="2.4" fill="none" stroke="#77b377" stroke-width="0.6"/>
<rect x="320.8" y="352.8" width="2.4" height="2.4" fill="none" stroke="#77b377" stroke-width="0.6"/>
<rect x="320.8" y="356.3" width="2.4" height="2.4" fill="none" stroke="#77b377" stroke-width="0.6"/>
<rect x="324.3" y="352.8" width="2.4" height="2.4" fill="none" stroke="#77b377" stroke-width="0.6"/>
<rect x="324.3" y="356.3" width="2.4" height="2.4" fill="none" stroke="#77b377" stroke-width="0.6"/>
<rect x="323.4" y="343.2" width="6.0" height="5.2" fill="#575757"/>
<circle cx="320.1" cy="345.1" r="1.30" fill="#8c8c8c" stroke="#5c5c5c" stroke-width="0.95"/>
<rect x="290.9" y="391.2" width="31.5" height="13.5" fill="#575757"/>
<rect x="324.7" y="456.0" width="33.3" height="11.7" rx="5.8" ry="5.8" fill="#575757"/>
<circle cx="332.8" cy="461.9" r="3.20" fill="#a4a4a4"/>
<circle cx="349.9" cy="461.9" r="3.20" fill="#a4a4a4"/>
<rect x="331.1" y="420.3" width="10.6" height="10.2" fill="#575757"/>
<rect x="350.0" y="420.3" width="10.6" height="10.2" fill="#575757"/>
<polyline points="334.0,425.4 340.0,425.4" fill="none" stroke="#333" stroke-width="0.8" stroke-linecap="round" stroke-linejoin="round"/>
<circle cx="341.5" cy="425.4" r="0.90" fill="none" stroke="#333" stroke-width="0.5"/>
<rect x="331.1" y="378.4" width="10.6" height="10.1" fill="#575757"/>
<rect x="331.1" y="397.3" width="10.6" height="10.2" fill="#575757"/>
<rect x="350.0" y="397.3" width="10.6" height="10.2" fill="#575757"/>
<rect x="378.5" y="397.7" width="10.5" height="10.5" fill="#575757"/>
<rect x="397.1" y="398.0" width="10.9" height="10.2" fill="#575757"/>
<rect x="397.1" y="380.4" width="10.9" height="9.8" fill="#575757"/>
<circle cx="343.4" cy="381.5" r="1.00" fill="none" stroke="#6e6e6e" stroke-width="0.5"/>
<circle cx="346.6" cy="381.5" r="1.00" fill="none" stroke="#6e6e6e" stroke-width="0.5"/>
<circle cx="343.4" cy="384.5" r="1.00" fill="none" stroke="#6e6e6e" stroke-width="0.5"/>
<circle cx="346.6" cy="384.5" r="1.00" fill="none" stroke="#6e6e6e" stroke-width="0.5"/>
<circle cx="343.4" cy="400.0" r="1.00" fill="none" stroke="#6e6e6e" stroke-width="0.5"/>
<circle cx="346.6" cy="400.0" r="1.00" fill="none" stroke="#6e6e6e" stroke-width="0.5"/>
<circle cx="343.4" cy="403.0" r="1.00" fill="none" stroke="#6e6e6e" stroke-width="0.5"/>
<circle cx="346.6" cy="403.0" r="1.00" fill="none" stroke="#6e6e6e" stroke-width="0.5"/>
<circle cx="361.4" cy="400.0" r="1.00" fill="none" stroke="#6e6e6e" stroke-width="0.5"/>
<circle cx="364.6" cy="400.0" r="1.00" fill="none" stroke="#6e6e6e" stroke-width="0.5"/>
<circle cx="361.4" cy="403.0" r="1.00" fill="none" stroke="#6e6e6e" stroke-width="0.5"/>
<circle cx="364.6" cy="403.0" r="1.00" fill="none" stroke="#6e6e6e" stroke-width="0.5"/>
<circle cx="372.4" cy="400.0" r="1.00" fill="none" stroke="#6e6e6e" stroke-width="0.5"/>
<circle cx="375.6" cy="400.0" r="1.00" fill="none" stroke="#6e6e6e" stroke-width="0.5"/>
<circle cx="372.4" cy="403.0" r="1.00" fill="none" stroke="#6e6e6e" stroke-width="0.5"/>
<circle cx="375.6" cy="403.0" r="1.00" fill="none" stroke="#6e6e6e" stroke-width="0.5"/>
<circle cx="390.4" cy="400.0" r="1.00" fill="none" stroke="#6e6e6e" stroke-width="0.5"/>
<circle cx="393.6" cy="400.0" r="1.00" fill="none" stroke="#6e6e6e" stroke-width="0.5"/>
<circle cx="390.4" cy="403.0" r="1.00" fill="none" stroke="#6e6e6e" stroke-width="0.5"/>
<circle cx="393.6" cy="403.0" r="1.00" fill="none" stroke="#6e6e6e" stroke-width="0.5"/>
<circle cx="389.4" cy="383.0" r="1.00" fill="none" stroke="#6e6e6e" stroke-width="0.5"/>
<circle cx="392.6" cy="383.0" r="1.00" fill="none" stroke="#6e6e6e" stroke-width="0.5"/>
<circle cx="389.4" cy="386.0" r="1.00" fill="none" stroke="#6e6e6e" stroke-width="0.5"/>
<circle cx="392.6" cy="386.0" r="1.00" fill="none" stroke="#6e6e6e" stroke-width="0.5"/>
<rect x="415.9" y="394.5" width="32.1" height="13.4" fill="#5a5aee"/>
<rect x="378.2" y="421.7" width="10.8" height="10.1" fill="#5a5aee"/>
<rect x="397.1" y="421.7" width="10.9" height="10.1" fill="#5a5aee"/>
<rect x="383.5" y="455.4" width="38.5" height="12.3" rx="6.2" ry="6.2" fill="#5a5aee"/>
<circle cx="391.3" cy="461.5" r="3.40" fill="#8c8cea"/>
<circle cx="407.3" cy="461.5" r="3.40" fill="#8c8cea"/>
<polyline points="390.0,426.8 396.0,426.8" fill="none" stroke="#3a3acc" stroke-width="0.8" stroke-linecap="round" stroke-linejoin="round"/>
<rect x="371.2" y="285.5" width="11.2" height="10.0" fill="#ff5555"/>
<rect x="371.2" y="295.5" width="11.2" height="6.0" fill="#ff7a7a"/>
<rect x="386.2" y="300.0" width="4.7" height="8.5" fill="#ff5555"/>
<rect x="387.1" y="311.3" width="3.8" height="5.2" fill="#ff5555"/>
<polyline points="376.2,301.4 376.2,321.5" fill="none" stroke="#ff6f6f" stroke-width="1.1" stroke-linecap="round" stroke-linejoin="round"/>
<polyline points="389.0,316.5 389.0,327.5 386.0,331.2 381.4,332.0" fill="none" stroke="#ff6060" stroke-width="2.4" stroke-linecap="round" stroke-linejoin="round"/>
<polyline points="338.5,303.0 345.4,318.4 359.2,318.4 359.2,322.0" fill="none" stroke="#ff6060" stroke-width="2.6" stroke-linecap="round" stroke-linejoin="round"/>
<polyline points="358.7,312.7 365.8,320.3 365.8,330.0" fill="none" stroke="#444" stroke-width="1.2" stroke-linecap="round" stroke-linejoin="round"/>
<polygon points="364.4,312.7 371.0,312.7 371.0,316.0 369.6,321.0 368.2,321.0 366.0,316.0" fill="#999999"/>
<polyline points="368.9,318.0 368.9,330.0" fill="none" stroke="#444" stroke-width="1.2" stroke-linecap="round" stroke-linejoin="round"/>
<polyline points="359.2,322.0 359.2,329.8" fill="none" stroke="#ff5050" stroke-width="1.5" stroke-linecap="butt" stroke-linejoin="round"/>
<polyline points="362.5,322.0 362.5,329.8" fill="none" stroke="#ff5050" stroke-width="1.5" stroke-linecap="butt" stroke-linejoin="round"/>
<polyline points="371.9,322.0 371.9,329.8" fill="none" stroke="#ff5050" stroke-width="1.5" stroke-linecap="butt" stroke-linejoin="round"/>
<polyline points="375.7,322.0 375.7,329.8" fill="none" stroke="#ff5050" stroke-width="1.5" stroke-linecap="butt" stroke-linejoin="round"/>
<polyline points="379.0,322.0 379.0,329.8" fill="none" stroke="#ff5050" stroke-width="1.5" stroke-linecap="butt" stroke-linejoin="round"/>
<polyline points="371.9,322.0 371.9,319.0 378.0,313.5 381.9,312.7" fill="none" stroke="#ff6f6f" stroke-width="1.1" stroke-linecap="round" stroke-linejoin="round"/>
<polyline points="375.7,322.0 375.7,320.5 380.0,316.8 382.8,316.5" fill="none" stroke="#ff6f6f" stroke-width="1.1" stroke-linecap="round" stroke-linejoin="round"/>
<circle cx="381.9" cy="312.7" r="1.30" fill="#ff8a8a" stroke="#ff6f6f" stroke-width="0.6"/>
<circle cx="382.8" cy="316.5" r="1.30" fill="#ff8a8a" stroke="#ff6f6f" stroke-width="0.6"/>
<polyline points="241.7,307.4 328.2,307.4 346.5,325.7 357.0,325.7" fill="none" stroke="#ffffff" stroke-width="3.4" stroke-linecap="round" stroke-linejoin="round"/>
<polyline points="256.8,311.5 262.5,316.3 333.0,316.3 345.2,328.5 357.0,328.5" fill="none" stroke="#ffffff" stroke-width="3.4" stroke-linecap="round" stroke-linejoin="round"/>
<polyline points="251.6,315.5 255.9,319.1 333.8,319.1 346.5,331.8 357.0,331.8" fill="none" stroke="#ffffff" stroke-width="3.4" stroke-linecap="round" stroke-linejoin="round"/>
<polyline points="246.2,321.0 333.0,321.0 347.2,335.2 357.0,335.2" fill="none" stroke="#ffffff" stroke-width="3.4" stroke-linecap="round" stroke-linejoin="round"/>
<polyline points="329.0,325.3 342.3,338.6 357.0,338.6" fill="none" stroke="#ffffff" stroke-width="3.4" stroke-linecap="round" stroke-linejoin="round"/>
<polyline points="317.9,329.1 328.2,329.1 340.9,341.8 357.0,341.8" fill="none" stroke="#ffffff" stroke-width="3.4" stroke-linecap="round" stroke-linejoin="round"/>
<polyline points="346.0,345.2 357.0,345.2" fill="none" stroke="#ffffff" stroke-width="3.4" stroke-linecap="round" stroke-linejoin="round"/>
<circle cx="241.7" cy="307.4" r="2.60" fill="#ffffff"/>
<circle cx="256.8" cy="311.5" r="2.60" fill="#ffffff"/>
<circle cx="251.6" cy="315.5" r="2.60" fill="#ffffff"/>
<circle cx="246.2" cy="321.0" r="2.60" fill="#ffffff"/>
<circle cx="329.0" cy="325.3" r="2.60" fill="#ffffff"/>
<circle cx="317.9" cy="329.1" r="2.60" fill="#ffffff"/>
<polyline points="241.7,307.4 328.2,307.4 346.5,325.7 357.0,325.7" fill="none" stroke="#ff6f6f" stroke-width="1.15" stroke-linecap="round" stroke-linejoin="round"/>
<polyline points="256.8,311.5 262.5,316.3 333.0,316.3 345.2,328.5 357.0,328.5" fill="none" stroke="#ff6f6f" stroke-width="1.15" stroke-linecap="round" stroke-linejoin="round"/>
<polyline points="251.6,315.5 255.9,319.1 333.8,319.1 346.5,331.8 357.0,331.8" fill="none" stroke="#ff6f6f" stroke-width="1.15" stroke-linecap="round" stroke-linejoin="round"/>
<polyline points="246.2,321.0 333.0,321.0 347.2,335.2 357.0,335.2" fill="none" stroke="#ff6f6f" stroke-width="1.15" stroke-linecap="round" stroke-linejoin="round"/>
<polyline points="329.0,325.3 342.3,338.6 357.0,338.6" fill="none" stroke="#ff6f6f" stroke-width="1.15" stroke-linecap="round" stroke-linejoin="round"/>
<polyline points="317.9,329.1 328.2,329.1 340.9,341.8 357.0,341.8" fill="none" stroke="#ff6f6f" stroke-width="1.15" stroke-linecap="round" stroke-linejoin="round"/>
<polyline points="346.0,345.2 357.0,345.2" fill="none" stroke="#ff6f6f" stroke-width="1.15" stroke-linecap="round" stroke-linejoin="round"/>
<circle cx="241.7" cy="307.4" r="1.50" fill="#ff8a8a" stroke="#ff6f6f" stroke-width="0.7"/>
<circle cx="256.8" cy="311.5" r="1.50" fill="#ff8a8a" stroke="#ff6f6f" stroke-width="0.7"/>
<circle cx="251.6" cy="315.5" r="1.50" fill="#ff8a8a" stroke="#ff6f6f" stroke-width="0.7"/>
<circle cx="246.2" cy="321.0" r="1.50" fill="#ff8a8a" stroke="#ff6f6f" stroke-width="0.7"/>
<circle cx="329.0" cy="325.3" r="1.50" fill="#ff8a8a" stroke="#ff6f6f" stroke-width="0.7"/>
<circle cx="317.9" cy="329.1" r="1.50" fill="#ff8a8a" stroke="#ff6f6f" stroke-width="0.7"/>
<polyline points="352.0,335.2 358.5,335.2" fill="none" stroke="#ff5050" stroke-width="1.5" stroke-linecap="butt" stroke-linejoin="round"/>
<polyline points="352.0,338.6 358.5,338.6" fill="none" stroke="#ff5050" stroke-width="1.5" stroke-linecap="butt" stroke-linejoin="round"/>
<polyline points="352.0,341.8 358.5,341.8" fill="none" stroke="#ff5050" stroke-width="1.5" stroke-linecap="butt" stroke-linejoin="round"/>
<polyline points="352.0,345.2 358.5,345.2" fill="none" stroke="#ff5050" stroke-width="1.5" stroke-linecap="butt" stroke-linejoin="round"/>
<polyline points="345.0,348.9 359.0,348.9" fill="none" stroke="#3f9a3f" stroke-width="1.8" stroke-linecap="butt" stroke-linejoin="round"/>
<polyline points="380.0,335.5 391.8,335.5 398.0,335.3" fill="none" stroke="#444" stroke-width="1.0" stroke-linecap="round" stroke-linejoin="round"/>
<polyline points="380.0,338.2 403.0,338.2 412.0,329.5" fill="none" stroke="#ff6f6f" stroke-width="1.15" stroke-linecap="round" stroke-linejoin="round"/>
<polyline points="380.0,340.7 406.0,340.7 409.0,337.8 436.5,337.8" fill="none" stroke="#ff6f6f" stroke-width="1.15" stroke-linecap="round" stroke-linejoin="round"/>
<polyline points="380.0,343.3 404.0,343.3 407.0,346.4" fill="none" stroke="#ff6f6f" stroke-width="1.15" stroke-linecap="round" stroke-linejoin="round"/>
<polyline points="380.0,346.4 443.8,346.4" fill="none" stroke="#ff6f6f" stroke-width="1.15" stroke-linecap="round" stroke-linejoin="round"/>
<circle cx="436.5" cy="337.8" r="1.50" fill="#ff8a8a" stroke="#ff6f6f" stroke-width="0.7"/>
<circle cx="443.8" cy="346.4" r="1.50" fill="#ff8a8a" stroke="#ff6f6f" stroke-width="0.7"/>
<polygon points="405.5,343.5 436.0,343.5 433.0,348.6 408.5,348.6" fill="#8c8c8c"/>
<rect x="409.5" y="344.0" width="4.5" height="4.0" fill="#555"/>
<circle cx="443.8" cy="342.4" r="1.30" fill="#8c8c8c" stroke="#5c5c5c" stroke-width="0.95"/>
<circle cx="458.6" cy="347.6" r="1.30" fill="#8c8c8c" stroke="#5c5c5c" stroke-width="0.95"/>
<polyline points="379.5,338.2 386.0,338.2" fill="none" stroke="#ff5050" stroke-width="1.5" stroke-linecap="butt" stroke-linejoin="round"/>
<polyline points="379.5,340.7 386.0,340.7" fill="none" stroke="#ff5050" stroke-width="1.5" stroke-linecap="butt" stroke-linejoin="round"/>
<polyline points="379.5,343.3 386.0,343.3" fill="none" stroke="#ff5050" stroke-width="1.5" stroke-linecap="butt" stroke-linejoin="round"/>
<polyline points="379.5,346.4 386.0,346.4" fill="none" stroke="#ff5050" stroke-width="1.5" stroke-linecap="butt" stroke-linejoin="round"/>
<polyline points="379.5,349.1 386.0,349.1" fill="none" stroke="#ff5050" stroke-width="1.5" stroke-linecap="butt" stroke-linejoin="round"/>
<polyline points="358.8,353.9 358.8,361.2" fill="none" stroke="#ff5050" stroke-width="1.4" stroke-linecap="butt" stroke-linejoin="round"/>
<polyline points="361.6,353.9 361.6,361.2" fill="none" stroke="#ff5050" stroke-width="1.4" stroke-linecap="butt" stroke-linejoin="round"/>
<polyline points="364.5,353.9 364.5,361.2" fill="none" stroke="#ff5050" stroke-width="1.4" stroke-linecap="butt" stroke-linejoin="round"/>
<polyline points="375.4,353.9 375.4,361.2" fill="none" stroke="#ff5050" stroke-width="1.4" stroke-linecap="butt" stroke-linejoin="round"/>
<polyline points="378.3,353.9 378.3,361.2" fill="none" stroke="#ff5050" stroke-width="1.4" stroke-linecap="butt" stroke-linejoin="round"/>
<polyline points="381.1,353.9 381.1,361.2" fill="none" stroke="#ff5050" stroke-width="1.4" stroke-linecap="butt" stroke-linejoin="round"/>
<polyline points="352.0,357.5 358.8,357.5" fill="none" stroke="#ff6f6f" stroke-width="1.0" stroke-linecap="round" stroke-linejoin="round"/>
<polyline points="381.1,357.5 388.0,357.5" fill="none" stroke="#ff6f6f" stroke-width="1.0" stroke-linecap="round" stroke-linejoin="round"/>
<circle cx="352.0" cy="357.5" r="1.30" fill="#ff8a8a" stroke="#ff6f6f" stroke-width="0.6"/>
<circle cx="388.0" cy="357.5" r="1.30" fill="#ff8a8a" stroke="#ff6f6f" stroke-width="0.6"/>
<polyline points="348.0,352.0 346.5,354.0 346.5,357.0" fill="none" stroke="#ff6f6f" stroke-width="1.0" stroke-linecap="round" stroke-linejoin="round"/>
<polyline points="391.0,352.0 392.5,354.0 392.5,357.0" fill="none" stroke="#ff6f6f" stroke-width="1.0" stroke-linecap="round" stroke-linejoin="round"/>
<rect x="360.1" y="333.1" width="17.9" height="17.6" fill="#9a9a9a"/>
<circle cx="363.5" cy="336.8" r="1.30" fill="#c4c4c4"/>
<circle cx="363.5" cy="342.0" r="1.30" fill="#c4c4c4"/>
<circle cx="363.5" cy="347.2" r="1.30" fill="#c4c4c4"/>
<circle cx="374.6" cy="336.8" r="1.30" fill="#c4c4c4"/>
<circle cx="374.6" cy="342.0" r="1.30" fill="#c4c4c4"/>
<circle cx="374.6" cy="347.2" r="1.30" fill="#c4c4c4"/>
<polyline points="366.0,337.0 368.8,342.0 372.5,337.5" fill="none" stroke="#3a3a3a" stroke-width="0.9" stroke-linecap="round" stroke-linejoin="round"/>
<polyline points="368.8,342.0 368.8,350.5" fill="none" stroke="#3a3a3a" stroke-width="0.9" stroke-linecap="round" stroke-linejoin="round"/>
<polyline points="366.5,346.0 369.0,349.0" fill="none" stroke="#3a3a3a" stroke-width="0.9" stroke-linecap="round" stroke-linejoin="round"/>
<polyline points="368.3,350.7 368.3,383.0 366.5,384.5 337.6,384.5" fill="none" stroke="#3f3f3f" stroke-width="1.0" stroke-linecap="round" stroke-linejoin="round"/>
<polyline points="372.1,350.7 372.1,383.0 373.9,384.6 402.5,384.6" fill="none" stroke="#3f3f3f" stroke-width="1.0" stroke-linecap="round" stroke-linejoin="round"/>
<rect x="367.6" y="351.0" width="5.4" height="12.0" fill="#3a3a3a"/>
<polyline points="218.3,146.8 218.3,195.6" fill="none" stroke="#ffffff" stroke-width="4.2" stroke-linecap="round" stroke-linejoin="round"/>
<polyline points="218.3,146.8 218.3,195.6" fill="none" stroke="#999999" stroke-width="1.6" stroke-linecap="round" stroke-linejoin="round"/>
<polyline points="217.5,195.6 183.0,195.6 156.0,222.5 156.0,499.0 162.5,506.0 174.9,506.0" fill="none" stroke="#ffffff" stroke-width="4.2" stroke-linecap="round" stroke-linejoin="round"/>
<polyline points="217.5,195.6 183.0,195.6 156.0,222.5 156.0,499.0 162.5,506.0 174.9,506.0" fill="none" stroke="#999999" stroke-width="1.6" stroke-linecap="round" stroke-linejoin="round"/>
<polyline points="174.5,506.0 174.5,521.0 182.0,528.3 557.0,528.3 566.0,519.0 566.0,505.7" fill="none" stroke="#ffffff" stroke-width="4.2" stroke-linecap="round" stroke-linejoin="round"/>
<polyline points="174.5,506.0 174.5,521.0 182.0,528.3 557.0,528.3 566.0,519.0 566.0,505.7" fill="none" stroke="#999999" stroke-width="1.6" stroke-linecap="round" stroke-linejoin="round"/>
<polyline points="168.2,129.7 218.4,129.7" fill="none" stroke="#ffffff" stroke-width="3.8" stroke-linecap="round" stroke-linejoin="round"/>
<polyline points="168.2,129.7 218.4,129.7" fill="none" stroke="#ffb0b0" stroke-width="2.0" stroke-linecap="round" stroke-linejoin="round"/>
<polyline points="168.2,129.7 218.4,129.7" fill="none" stroke="#ff7777" stroke-width="0.6" stroke-linecap="round" stroke-linejoin="round"/>
<circle cx="168.2" cy="129.7" r="9.00" fill="#ffffff"/>
<circle cx="168.2" cy="129.7" r="7.80" fill="#ff9e9e"/>
<circle cx="168.2" cy="129.7" r="6.70" fill="#ffb4b4"/>
<circle cx="218.4" cy="129.7" r="6.60" fill="#ffffff"/>
<circle cx="218.4" cy="129.7" r="5.40" fill="#ff9e9e"/>
<circle cx="218.4" cy="129.7" r="4.30" fill="#ffb4b4"/>
<circle cx="218.3" cy="112.3" r="4.60" fill="none" stroke="#555" stroke-width="1.8"/>
<rect x="212.0" y="140.5" width="12.6" height="12.6" fill="#999999" stroke="#ffffff" stroke-width="1.4"/>
<circle cx="218.3" cy="146.8" r="2.60" fill="#b0b0b0" stroke="#777" stroke-width="0.8"/>
<circle cx="217.5" cy="195.6" r="8.00" fill="#b4b4b4" stroke="#ffffff" stroke-width="1.3"/>
<polyline points="266.2,129.8 259.6,129.8 250.9,138.5 250.9,184.1 266.2,194.1" fill="none" stroke="#ffffff" stroke-width="3.8" stroke-linecap="round" stroke-linejoin="round"/>
<polyline points="266.2,129.8 259.6,129.8 250.9,138.5 250.9,184.1 266.2,194.1" fill="none" stroke="#ffb0b0" stroke-width="2.0" stroke-linecap="round" stroke-linejoin="round"/>
<polyline points="266.2,129.8 259.6,129.8 250.9,138.5 250.9,184.1 266.2,194.1" fill="none" stroke="#ff7777" stroke-width="0.6" stroke-linecap="round" stroke-linejoin="round"/>
<rect x="260.0" y="106.6" width="12.4" height="12.4" fill="#8bc78b" stroke="#ffffff" stroke-width="1.2"/>
<circle cx="266.2" cy="112.8" r="3.60" fill="#a8d8a8"/>
<circle cx="266.2" cy="129.8" r="6.40" fill="#ffffff"/>
<circle cx="266.2" cy="129.8" r="5.20" fill="#ff9e9e"/>
<circle cx="266.2" cy="129.8" r="4.10" fill="#ffb4b4"/>
<circle cx="266.2" cy="147.0" r="4.60" fill="none" stroke="#555" stroke-width="1.8"/>
<circle cx="266.2" cy="194.1" r="9.00" fill="#ffffff"/>
<circle cx="266.2" cy="194.1" r="7.80" fill="#ff9e9e"/>
<circle cx="266.2" cy="194.1" r="6.70" fill="#ffb4b4"/>
<polyline points="300.8,129.8 294.2,129.8 285.5,138.5 285.5,184.1 300.8,194.1" fill="none" stroke="#ffffff" stroke-width="3.8" stroke-linecap="round" stroke-linejoin="round"/>
<polyline points="300.8,129.8 294.2,129.8 285.5,138.5 285.5,184.1 300.8,194.1" fill="none" stroke="#ffb0b0" stroke-width="2.0" stroke-linecap="round" stroke-linejoin="round"/>
<polyline points="300.8,129.8 294.2,129.8 285.5,138.5 285.5,184.1 300.8,194.1" fill="none" stroke="#ff7777" stroke-width="0.6" stroke-linecap="round" stroke-linejoin="round"/>
<rect x="294.6" y="106.6" width="12.4" height="12.4" fill="#8bc78b" stroke="#ffffff" stroke-width="1.2"/>
<circle cx="300.8" cy="112.8" r="3.60" fill="#a8d8a8"/>
<circle cx="300.8" cy="129.8" r="6.40" fill="#ffffff"/>
<circle cx="300.8" cy="129.8" r="5.20" fill="#ff9e9e"/>
<circle cx="300.8" cy="129.8" r="4.10" fill="#ffb4b4"/>
<circle cx="300.8" cy="146.3" r="4.60" fill="none" stroke="#555" stroke-width="1.8"/>
<circle cx="300.8" cy="194.1" r="9.00" fill="#ffffff"/>
<circle cx="300.8" cy="194.1" r="7.80" fill="#ff9e9e"/>
<circle cx="300.8" cy="194.1" r="6.70" fill="#ffb4b4"/>
<polyline points="336.0,128.6 329.4,128.6 320.7,137.3 320.7,183.4 336.0,193.4" fill="none" stroke="#ffffff" stroke-width="3.8" stroke-linecap="round" stroke-linejoin="round"/>
<polyline points="336.0,128.6 329.4,128.6 320.7,137.3 320.7,183.4 336.0,193.4" fill="none" stroke="#ffb0b0" stroke-width="2.0" stroke-linecap="round" stroke-linejoin="round"/>
<polyline points="336.0,128.6 329.4,128.6 320.7,137.3 320.7,183.4 336.0,193.4" fill="none" stroke="#ff7777" stroke-width="0.6" stroke-linecap="round" stroke-linejoin="round"/>
<rect x="329.8" y="105.8" width="12.4" height="12.4" fill="#8bc78b" stroke="#ffffff" stroke-width="1.2"/>
<circle cx="336.0" cy="112.0" r="3.60" fill="#a8d8a8"/>
<circle cx="336.0" cy="128.6" r="6.40" fill="#ffffff"/>
<circle cx="336.0" cy="128.6" r="5.20" fill="#ff9e9e"/>
<circle cx="336.0" cy="128.6" r="4.10" fill="#ffb4b4"/>
<circle cx="336.0" cy="145.6" r="4.60" fill="none" stroke="#555" stroke-width="1.8"/>
<circle cx="336.0" cy="193.4" r="9.00" fill="#ffffff"/>
<circle cx="336.0" cy="193.4" r="7.80" fill="#ff9e9e"/>
<circle cx="336.0" cy="193.4" r="6.70" fill="#ffb4b4"/>
<circle cx="224.8" cy="283.3" r="6.20" fill="#b4b4b4" stroke="#ffffff" stroke-width="1.3"/>
<circle cx="208.1" cy="300.2" r="4.70" fill="none" stroke="#555" stroke-width="1.8"/>
<circle cx="224.8" cy="317.2" r="6.20" fill="#aaaaff" stroke="#ffffff" stroke-width="1.3"/>
<circle cx="293.4" cy="288.9" r="4.60" fill="#ffffff"/>
<circle cx="293.4" cy="288.9" r="2.10" fill="#a2a2a2"/>
<circle cx="293.4" cy="288.9" r="0.70" fill="#777"/>
<polyline points="225.0,300.4 338.0,300.4" fill="none" stroke="#ffffff" stroke-width="8.5" stroke-linecap="butt" stroke-linejoin="round"/>
<polyline points="225.0,300.4 338.0,300.4" fill="none" stroke="#ff9999" stroke-width="6.2" stroke-linecap="butt" stroke-linejoin="round"/>
<rect x="218.5" y="293.8" width="13.2" height="13.2" fill="#ff9999" stroke="#ffffff" stroke-width="1.2"/>
<circle cx="226.5" cy="300.4" r="3.20" fill="#ff7a7a"/>
<rect x="331" y="297.6" width="10" height="8.6" rx="1.5" fill="#ff4a4a"/>
<polyline points="174.4,488.4 226.9,488.4" fill="none" stroke="#ffffff" stroke-width="3.8" stroke-linecap="round" stroke-linejoin="round"/>
<polyline points="174.4,488.4 226.9,488.4" fill="none" stroke="#ffb0b0" stroke-width="2.0" stroke-linecap="round" stroke-linejoin="round"/>
<polyline points="174.4,488.4 226.9,488.4" fill="none" stroke="#ff7777" stroke-width="0.6" stroke-linecap="round" stroke-linejoin="round"/>
<circle cx="174.4" cy="488.4" r="6.30" fill="#ffffff"/>
<circle cx="174.4" cy="488.4" r="5.10" fill="#ff9e9e"/>
<circle cx="174.4" cy="488.4" r="4.00" fill="#ffb4b4"/>
<circle cx="226.9" cy="487.9" r="8.80" fill="#ffffff"/>
<circle cx="226.9" cy="487.9" r="7.60" fill="#ff9e9e"/>
<circle cx="226.9" cy="487.9" r="6.50" fill="#ffb4b4"/>
<rect x="190.7" y="485.7" width="6.9" height="6.5" fill="#ff9e9e" stroke="#ffffff" stroke-width="1"/>
<rect x="200.9" y="485.7" width="7.0" height="6.5" fill="#ff9e9e" stroke="#ffffff" stroke-width="1"/>
<polyline points="192.0,488.9 206.5,488.9" fill="none" stroke="#ff5555" stroke-width="0.8" stroke-linecap="round" stroke-linejoin="round"/>
<rect x="168.4" y="499.3" width="13.0" height="13.2" fill="#999999" stroke="#ffffff" stroke-width="1.4"/>
<circle cx="174.9" cy="505.9" r="2.80" fill="#a8a8a8" stroke="#bbb" stroke-width="1"/>
<polyline points="543.9,472.4 565.2,462.0" fill="none" stroke="#ffffff" stroke-width="3.4" stroke-linecap="round" stroke-linejoin="round"/>
<polyline points="543.9,472.4 565.2,462.0" fill="none" stroke="#ffb0b0" stroke-width="1.6" stroke-linecap="round" stroke-linejoin="round"/>
<polyline points="543.9,472.4 565.2,462.0" fill="none" stroke="#ff7777" stroke-width="0.6" stroke-linecap="round" stroke-linejoin="round"/>
<polyline points="543.9,483.3 553.1,483.3 562.0,489.0" fill="none" stroke="#ffffff" stroke-width="3.4" stroke-linecap="round" stroke-linejoin="round"/>
<polyline points="543.9,483.3 553.1,483.3 562.0,489.0" fill="none" stroke="#ffb0b0" stroke-width="1.6" stroke-linecap="round" stroke-linejoin="round"/>
<polyline points="543.9,483.3 553.1,483.3 562.0,489.0" fill="none" stroke="#ff7777" stroke-width="0.6" stroke-linecap="round" stroke-linejoin="round"/>
<circle cx="565.2" cy="462.0" r="8.90" fill="#ffffff"/>
<circle cx="565.2" cy="462.0" r="7.70" fill="#ff9e9e"/>
<circle cx="565.2" cy="462.0" r="6.60" fill="#ffb4b4"/>
<rect x="540.8" y="469.3" width="6.2" height="6.2" fill="#ff8a8a" stroke="#ffffff" stroke-width="1"/>
<rect x="540.8" y="480.4" width="6.2" height="5.8" fill="#ff8a8a" stroke="#ffffff" stroke-width="1"/>
<circle cx="565.9" cy="489.0" r="6.10" fill="#a8a8a8" stroke="#ffffff" stroke-width="1.3"/>
<rect x="559.0" y="499.3" width="13.2" height="12.8" fill="#999999" stroke="#ffffff" stroke-width="1.4"/>
<circle cx="565.6" cy="505.7" r="2.80" fill="#a8a8a8" stroke="#bbb" stroke-width="1"/>
</svg>
</body></html>
